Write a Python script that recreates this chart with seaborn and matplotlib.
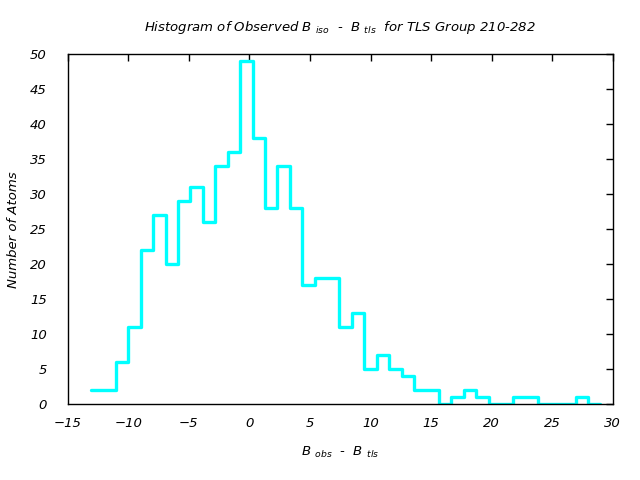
import numpy as np
import pandas as pd
import matplotlib
matplotlib.use("Agg")
import matplotlib.pyplot as plt
import seaborn as sns

# Histogram data
bin_start = -13.08
bin_width = 1.026
counts = [2, 2, 6, 11, 22, 27, 20, 29, 31, 26, 34, 36, 49, 38, 28, 34, 28, 17, 18, 18,
          11, 13, 5, 7, 5, 4, 2, 2, 0, 1, 2, 1, 0, 0, 1, 1, 0, 0, 0, 1, 0]
x_ticks = [-15, -10, -5, 0, 5, 10, 15, 20, 25, 30]
y_ticks = [0, 5, 10, 15, 20, 25, 30, 35, 40, 45, 50]

edges = bin_start + bin_width * np.arange(len(counts) + 1)
centers = (edges[:-1] + edges[1:]) / 2
df = pd.DataFrame({"value": centers, "count": counts})

sns.set_style("white")
plt.rcParams["font.family"] = ["DejaVu Sans"]
plt.rcParams["font.style"] = "italic"
plt.rcParams["text.color"] = "black"
plt.rcParams["axes.labelcolor"] = "black"
plt.rcParams["mathtext.fontset"] = "custom"
plt.rcParams["mathtext.it"] = "DejaVu Sans:italic"
plt.rcParams["mathtext.rm"] = "DejaVu Sans:italic"

fig = plt.figure(figsize=(6.4, 4.8), dpi=100)
ax = fig.add_axes([0.1058, 0.1577, 0.8516, 0.7292])

sns.histplot(data=df, x="value", weights="count", bins=list(edges), element="step",
             fill=False, color="#00ffff", linewidth=2.4, ax=ax)

ax.set_xlim(-15, 30)
ax.set_ylim(0, 50)
ax.set_xticks(x_ticks)
ax.set_yticks(y_ticks)
ax.tick_params(direction="in", length=5, width=1, top=True, right=True,
               labelsize=9.5, colors="black")
ax.tick_params(axis="x", pad=9)
ax.tick_params(axis="y", pad=15)
for lab in ax.get_xticklabels() + ax.get_yticklabels():
    lab.set_fontstyle("italic")
for s in ax.spines.values():
    s.set_color("black")
    s.set_linewidth(1)

ax.set_title(r"Histogram of Observed $B\ _{iso}$  -  $B\ _{tls}$  for TLS Group 210-282",
             fontsize=9.5, style="italic", pad=17, color="black")
ax.set_xlabel(r"$B\ _{obs}$  -  $B\ _{tls}$", fontsize=9.5, style="italic", labelpad=11,
              color="black")
ax.set_ylabel("Number of Atoms", fontsize=9.5, style="italic", labelpad=7, color="black")

fig.savefig("out.png", dpi=100)
